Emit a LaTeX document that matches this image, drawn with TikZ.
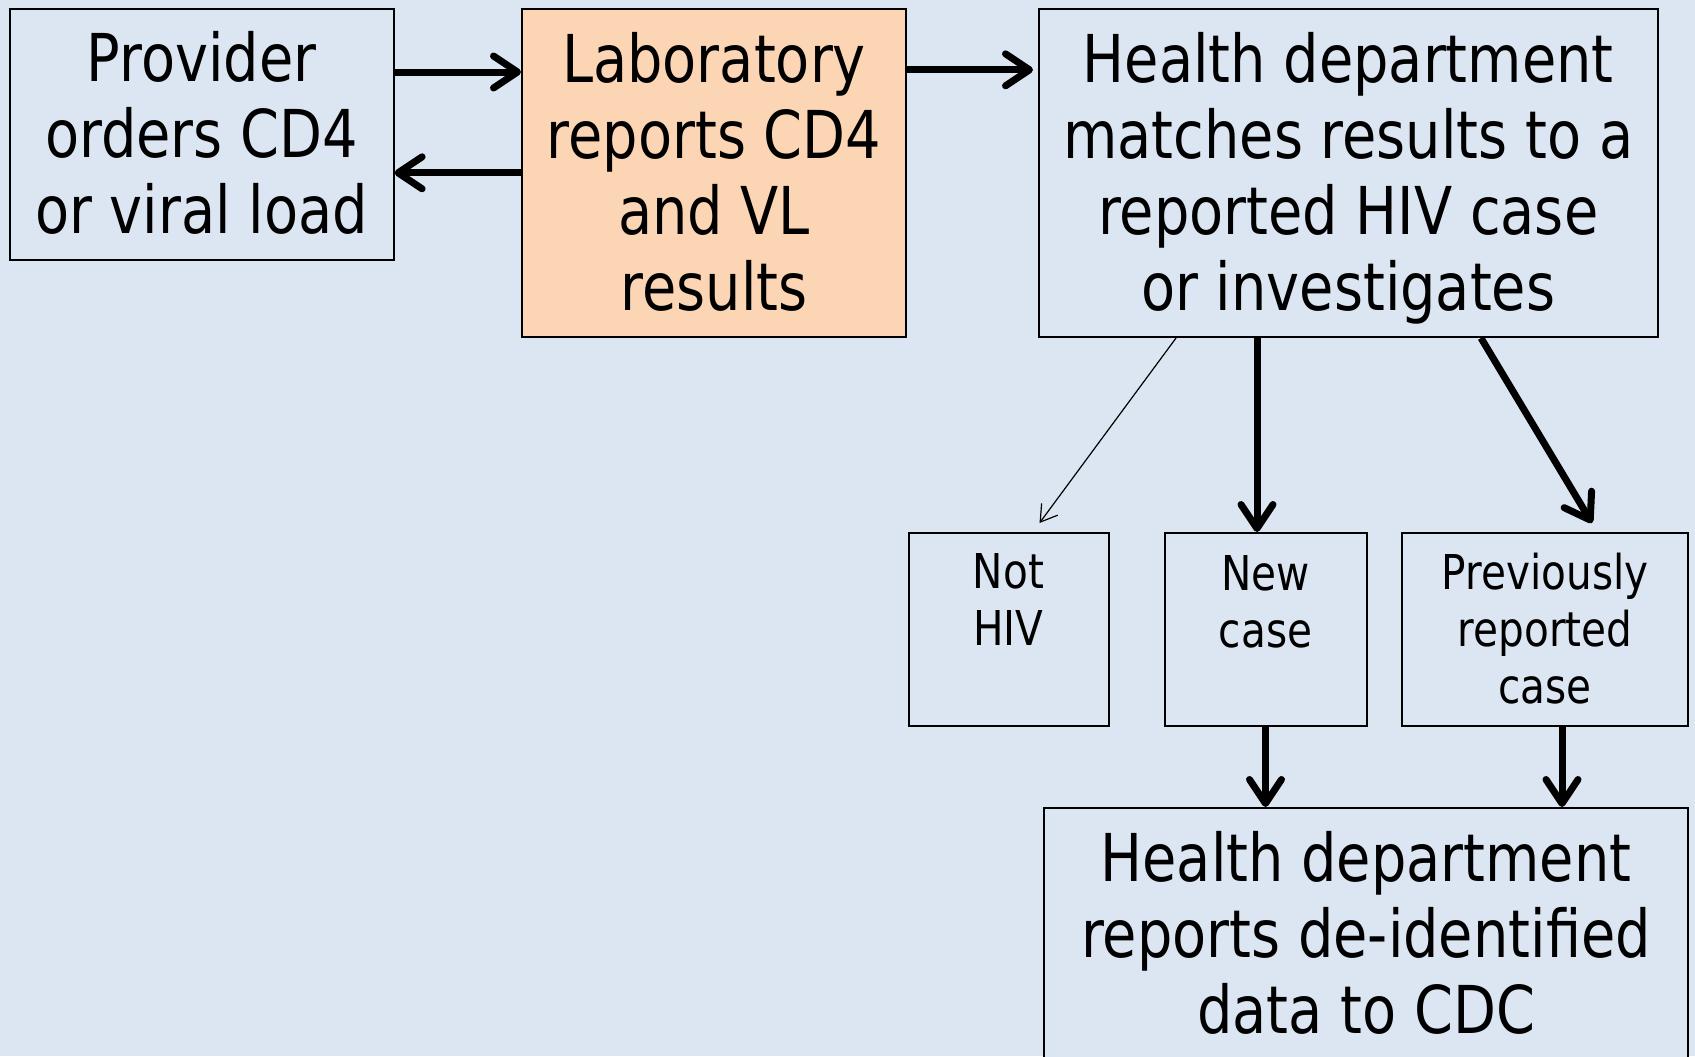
\documentclass[tikz,border=0pt]{standalone}
\usepackage{fontspec}
\setmainfont{DejaVu Sans}[FakeStretch=0.845]
\usetikzlibrary{arrows.meta,calc}
\definecolor{bgblue}{HTML}{DCE6F2}
\definecolor{peach}{HTML}{FCD5B5}
\begin{document}
\begin{tikzpicture}[x=0.5pt,y=-0.5pt,
  box/.style={draw=black,line width=1pt,fill=bgblue,inner sep=0pt,rectangle},
  bigtxt/.style={font=\fontsize{33}{38}\selectfont,align=center,inner sep=0pt,anchor=base},
  smalltxt/.style={font=\fontsize{24}{28.5}\selectfont,align=center,inner sep=0pt,anchor=base},
  thickarr/.style={line width=3.5pt,-{Straight Barb[length=12pt,width=16pt,round]}},
  thinarr/.style={line width=0.6pt,-{Straight Barb[length=8pt,width=10pt]}}]
\clip (0,0) rectangle (1695,1056);
\fill[bgblue] (0,0) rectangle (1695,1056);
% boxes
\node[box,minimum width=192pt,minimum height=125.5pt] (prov) at (201.6,134) {};
\node[box,fill=peach,minimum width=192pt,minimum height=164.25pt] (lab) at (714,172.8) {};
\node[box,minimum width=309.25pt,minimum height=164.25pt] (hd) at (1348.25,172.8) {};
\node[box,minimum width=100pt,minimum height=96.5pt] (nothiv) at (1008.5,629) {};
\node[box,minimum width=101pt,minimum height=96.5pt] (newcase) at (1265.5,629.5) {};
\node[box,minimum width=143pt,minimum height=96.5pt] (prev) at (1545,629.5) {};
\node[box,minimum width=322pt,minimum height=150pt] (cdc) at (1366,958) {};
% texts (base anchor = baseline of last line)
\node[bigtxt] (provtxt) at (201.6,233) {Provider\\orders CD4\\or viral load};
\node[bigtxt] (labtxt) at (714,310) {Laboratory\\reports CD4\\and VL\\results};
\node[bigtxt] (hdtxt) at (1348.25,310) {Health department\\matches results to a\\reported HIV case\\or investigates};
\node[bigtxt] (cdctxt) at (1366,1033) {Health department\\reports de-identified\\data to CDC};
\node[smalltxt] (nhtxt) at (1008.5,645) {Not\\HIV};
\node[smalltxt] (nctxt) at (1265.5,647) {New\\case};
\node[smalltxt] (pvtxt) at (1545,703) {Previously\\reported\\case};
% connectors
\coordinate (p1) at ($(prov.east)+(0,-62)$);
\draw[thickarr] (p1) -- (p1 -| lab.west);
\draw[thickarr] (lab.west) -- (lab.west -| prov.east);
\coordinate (p2) at ($(lab.east)+(0,-103)$);
\draw[thickarr] (p2) -- ($(p2 -| hd.west)+(-5,0)$);
\coordinate (h1) at ($(hd.south west)+(138,0)$);
\coordinate (nhtip) at (1039.5,523);
\draw[thinarr] (h1) -- (nhtip);
\coordinate (h2) at ($(hd.south west)+(219,0)$);
\draw[thickarr] (h2) -- (h2 |- newcase.north);
\coordinate (h3) at ($(hd.south west)+(443,0)$);
\coordinate (pvtip) at (1592,523);
\draw[thickarr] (h3) -- (pvtip);
\draw[thickarr] (newcase.south) -- (newcase.south |- cdc.north);
\coordinate (p3) at ($(prev.south)+(17,0)$);
\draw[thickarr] (p3) -- (p3 |- cdc.north);
\end{tikzpicture}
\end{document}
